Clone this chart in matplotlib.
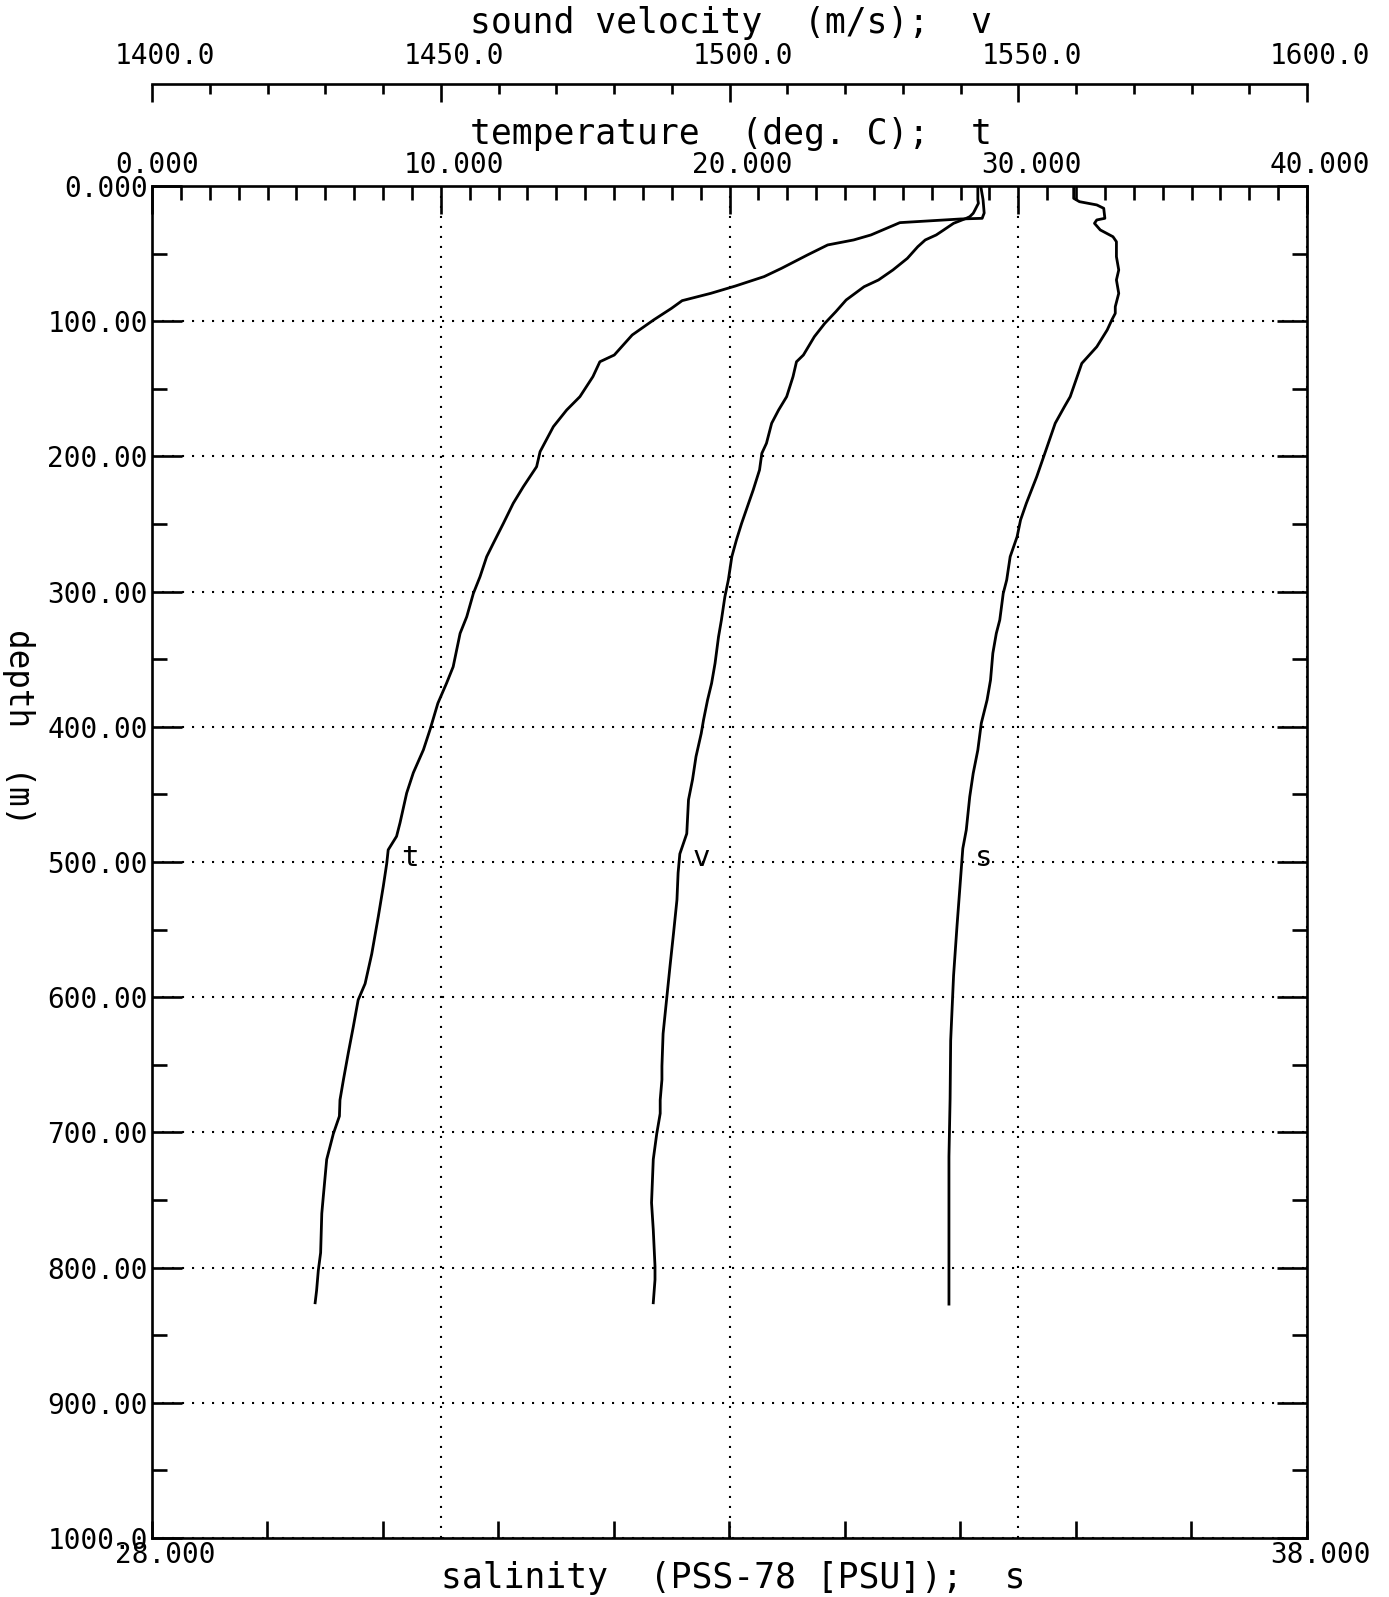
import matplotlib
matplotlib.use("Agg")
import matplotlib.pyplot as plt
from matplotlib.ticker import MultipleLocator, FixedLocator
from matplotlib.transforms import ScaledTranslation

plt.rcParams['font.family'] = ['DejaVu Sans Mono', 'DejaVu Sans']

# ---------------- data ----------------
t_depth = [0, 10, 20, 23.9, 24.4, 27.1, 36.2, 39.9, 43.6, 51, 60.9, 67, 74, 79.4, 84.8, 90.5,
           99.1, 110.2, 125, 130, 141, 155.8, 165.7, 178, 196.5, 207.6, 222.4, 234.7, 249.5,
           264.3, 274.2, 289, 301.3, 318.6, 330.9, 355.6, 367.8, 382.6, 402, 417, 434, 449,
           471, 481, 491, 501, 518, 540, 568, 590, 602, 622, 641, 661, 676, 688, 701, 720,
           748, 760, 789, 802, 817, 826]
t_val = [28.70, 28.78, 28.82, 28.75, 28.0, 25.9, 24.9, 24.3, 23.4, 22.7, 21.8, 21.2, 20.2, 19.35,
         18.36, 17.99, 17.37, 16.63, 16.01, 15.51, 15.27, 14.82, 14.36, 13.9, 13.44, 13.32,
         12.86, 12.51, 12.17, 11.82, 11.59, 11.36, 11.13, 10.9, 10.67, 10.43, 10.2, 9.9, 9.63,
         9.4, 9.05, 8.82, 8.59, 8.47, 8.18, 8.13, 8.01, 7.84, 7.61, 7.38, 7.14, 6.97, 6.80,
         6.63, 6.51, 6.49, 6.28, 6.05, 5.93, 5.88, 5.84, 5.76, 5.70, 5.65]

v_depth = [0, 10, 12.8, 17.8, 20.2, 22.7, 23.9, 27.6, 32.5, 36.2, 39.9, 44.9, 53.5, 62.1, 69.5,
           74.5, 84.3, 93, 101.6, 111.4, 125, 130, 141, 155.8, 165.7, 175.5, 190.3, 197.7,
           210, 224.9, 234.7, 249.5, 261.8, 274.2, 291.4, 303.8, 321, 333.4, 353, 367.8,
           380.2, 395, 405, 422, 439, 454, 479, 494, 508, 528, 553, 577, 602, 627, 651, 661,
           676, 686, 701, 720, 752, 772, 799, 809, 826]
v_val = [1543.0, 1543.0, 1543.1, 1542.5, 1542.2, 1541.6, 1541.0, 1538.8, 1537.1, 1535.8, 1533.9,
         1532.6, 1530.8, 1528.3, 1525.8, 1523.3, 1520.2, 1518.4, 1516.5, 1514.7, 1512.8,
         1511.6, 1511.0, 1509.9, 1508.5, 1507.3, 1506.4, 1505.6, 1505.2, 1504.1, 1503.3,
         1502.1, 1501.2, 1500.4, 1499.8, 1499.2, 1498.6, 1498.1, 1497.5, 1496.9, 1496.2,
         1495.5, 1495.1, 1494.2, 1493.6, 1492.9, 1492.6, 1491.4, 1491.1, 1490.9, 1490.3,
         1489.7, 1489.1, 1488.5, 1488.3, 1488.3, 1488.0, 1488.0, 1487.4, 1486.8, 1486.5,
         1486.8, 1487.1, 1487.1, 1486.8]

s_depth = [0, 9.1, 11.6, 14, 16.5, 23.9, 25.1, 27.6, 32.5, 37.5, 41.2, 52.3, 62.1, 69.5, 79.4,
           89.3, 94.2, 99.1, 106.5, 118.9, 131.2, 143.5, 155.8, 163.2, 175.5, 185.4, 195.3,
           200.2, 215, 234.7, 247, 259.4, 274.2, 291.4, 301.3, 321, 330.9, 345.6, 365.4,
           380.2, 397.4, 417.2, 434.4, 451.7, 476.3, 490, 518.5, 547, 584, 632, 675, 718,
           775, 803, 827]
s_val = [35.98, 35.98, 36.03, 36.18, 36.24, 36.25, 36.18, 36.16, 36.21, 36.32, 36.35, 36.35,
         36.37, 36.35, 36.37, 36.34, 36.34, 36.31, 36.27, 36.18, 36.05, 36.00, 35.95, 35.90,
         35.82, 35.78, 35.74, 35.72, 35.66, 35.57, 35.52, 35.49, 35.43, 35.40, 35.37, 35.34,
         35.31, 35.28, 35.26, 35.23, 35.18, 35.15, 35.11, 35.08, 35.05, 35.02, 34.995, 34.97,
         34.94, 34.915, 34.91, 34.90, 34.90, 34.90, 34.90]

depth_ticks = [0, 100, 200, 300, 400, 500, 600, 700, 800, 900, 1000]
depth_labels = ["0.000", "100.00", "200.00", "300.00", "400.00", "500.00", "600.00",
                "700.00", "800.00", "900.00", "1000.0"]
temp_ticks = [0, 10, 20, 30, 40]
temp_labels = ["0.000", "10.000", "20.000", "30.000", "40.000"]
vel_ticks = [1400, 1450, 1500, 1550, 1600]
vel_labels = ["1400.0", "1450.0", "1500.0", "1550.0", "1600.0"]
sal_ticks = [28, 38]
sal_labels = ["28.000", "38.000"]

# ---------------- figure ----------------
W, H = 1389, 1597
fig = plt.figure(figsize=(W / 100, H / 100), dpi=100)
L, R, T, B = 152, 1307, 186, 1538
ax = fig.add_axes([L / W, 1 - B / H, (R - L) / W, (B - T) / H])
ax_s = ax.twiny()
ax_v = ax.twiny()
px = 72 / 100  # points per pixel
LW = 1.9

ax.set_xlim(0, 40)
ax.set_ylim(1000, 0)
for sp in ax.spines.values():
    sp.set_linewidth(LW)

# temperature axis (top of box)
ax.xaxis.tick_top()
ax.xaxis.set_major_locator(FixedLocator(temp_ticks))
ax.xaxis.set_minor_locator(MultipleLocator(1))
ax.set_xticklabels(temp_labels)
ax.tick_params(axis='x', which='major', direction='in', length=28 * px, width=LW,
               top=True, bottom=False, labeltop=True, labelbottom=False, pad=5, labelsize=20)
ax.tick_params(axis='x', which='minor', direction='in', length=14 * px, width=LW,
               top=True, bottom=False)

# depth axis
ax.yaxis.set_major_locator(FixedLocator(depth_ticks))
ax.yaxis.set_minor_locator(MultipleLocator(50))
ax.set_yticklabels(depth_labels)
ax.tick_params(axis='y', which='major', direction='in', length=30 * px, width=LW,
               left=True, right=True, pad=3, labelsize=20)
ax.tick_params(axis='y', which='minor', direction='in', length=15 * px, width=LW,
               left=True, right=True)

ax.grid(True, which='major', color='k', linestyle=(0, (1, 3.8)), linewidth=1.5)

# salinity axis (bottom)
ax_s.set_xlim(28, 38)
ax_s.xaxis.tick_bottom()
ax_s.xaxis.set_major_locator(FixedLocator(sal_ticks))
ax_s.xaxis.set_minor_locator(MultipleLocator(1))
ax_s.set_xticklabels(sal_labels)
ax_s.tick_params(axis='x', which='major', direction='in', length=17 * px, width=LW,
                 bottom=True, top=False, labelbottom=True, labeltop=False, pad=2, labelsize=20)
ax_s.tick_params(axis='x', which='minor', direction='in', length=17 * px, width=LW,
                 bottom=True, top=False)
for sp in ax_s.spines.values():
    sp.set_visible(False)

# sound velocity axis (separate line above box)
ax_v.set_xlim(1400, 1600)
ax_v.xaxis.tick_top()
ax_v.xaxis.set_major_locator(FixedLocator(vel_ticks))
ax_v.xaxis.set_minor_locator(MultipleLocator(10))
ax_v.set_xticklabels(vel_labels)
for name, sp in ax_v.spines.items():
    sp.set_visible(name == 'top')
ax_v.spines['top'].set_position(('outward', (T - 83.5) * px))
ax_v.spines['top'].set_linewidth(LW)
ax_v.tick_params(axis='x', which='major', direction='in', length=18 * px, width=LW,
                 top=True, bottom=False, labeltop=True, labelbottom=False, pad=10, labelsize=20)
ax_v.tick_params(axis='x', which='minor', direction='in', length=10 * px, width=LW,
                 top=True, bottom=False)

# shift x tick labels: left edge 37 px left of tick
off = ScaledTranslation(-37 / 100, 0, fig.dpi_scale_trans)
for a in (ax, ax_s, ax_v):
    for lbl in a.get_xticklabels():
        lbl.set_horizontalalignment('left')
        lbl.set_transform(lbl.get_transform() + off)

# curves
ax.plot(t_val, t_depth, color='k', lw=2.0, solid_joinstyle='round')
ax_v.plot(v_val, v_depth, color='k', lw=2.0, solid_joinstyle='round')
ax_s.plot(s_val, s_depth, color='k', lw=2.0, solid_joinstyle='round')

# curve labels
ax.text(8.93, 497, "t", fontsize=21, ha='center', va='center')
ax_v.text(1495.2, 497, "v", fontsize=21, ha='center', va='center')
ax_s.text(35.2, 497, "s", fontsize=21, ha='center', va='center')

# axis titles
fig.text(731 / W, 1 - 23 / H, "sound velocity  (m/s);  v", fontsize=25, ha='center', va='center')
fig.text(731 / W, 1 - 134 / H, "temperature  (deg. C);  t", fontsize=25, ha='center', va='center')
fig.text(733 / W, 1 - 1578 / H, "salinity  (PSS-78 [PSU]);  s", fontsize=25, ha='center', va='center')
fig.text(18 / W, 1 - 727 / H, "depth  (m)", fontsize=23.5, ha='center', va='center', rotation=270)

fig.savefig("out.png", dpi=100, facecolor='white')
